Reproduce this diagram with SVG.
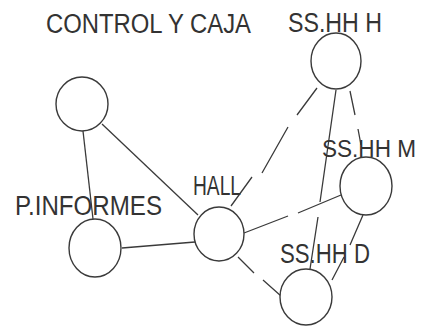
<svg xmlns="http://www.w3.org/2000/svg" width="423" height="326" viewBox="0 0 423 326">
<style>
.n{fill:#fff;stroke:#3a3a3a;stroke-width:1.4}
.c{fill:none;stroke:#3a3a3a;stroke-width:1.3}
.t{font-family:"Liberation Sans",Arial,sans-serif;font-size:27px;fill:#333}
</style>
<rect width="423" height="326" fill="#fff"/>
<g id="connectors">
<path class="c" d="M83,131 L93,219"/>
<path class="c" d="M102,124 L198,215"/>
<path class="c" d="M122,248 L195,242"/>
<path class="c" d="M317,88 L297,115 M288,127 L262,173 M252,177 L231,206"/>
<path class="c" d="M336,90 L320,202 M318,217 L310,269"/>
<path class="c" d="M350,91 L355,115 M358,129 L361,145"/>
<path class="c" d="M244,233 L288,216 M298,213 L341,195"/>
<path class="c" d="M363,215 L350,245 M344,257 L332,280"/>
<path class="c" d="M238,257 L254,273 M263,280 L281,296"/>
</g>
<g id="control-y-caja">
<ellipse class="n" cx="82" cy="104" rx="26" ry="27"/>
<text class="t" x="46" y="33" textLength="205" lengthAdjust="spacingAndGlyphs">CONTROL Y CAJA</text>
</g>
<g id="sshh-h">
<ellipse class="n" cx="336" cy="61" rx="25" ry="28"/>
<text class="t" x="288" y="32" textLength="94" lengthAdjust="spacingAndGlyphs">SS.HH H</text>
</g>
<g id="p-informes">
<ellipse class="n" cx="95" cy="248" rx="26" ry="29"/>
<text class="t" x="15" y="215" textLength="147" lengthAdjust="spacingAndGlyphs">P.INFORMES</text>
</g>
<g id="hall">
<ellipse class="n" cx="219" cy="234" rx="25" ry="27"/>
<text class="t" x="193" y="195" textLength="48" lengthAdjust="spacingAndGlyphs">HALL</text>
</g>
<g id="sshh-m">
<ellipse class="n" cx="366" cy="186" rx="26" ry="29"/>
<text class="t" x="322" y="157" style="font-size:23.5px" textLength="94" lengthAdjust="spacingAndGlyphs">SS.HH M</text>
</g>
<g id="sshh-d">
<ellipse class="n" cx="306" cy="297" rx="26" ry="28"/>
<text class="t" x="280" y="263" textLength="90" lengthAdjust="spacingAndGlyphs">SS.HH D</text>
</g>
</svg>
